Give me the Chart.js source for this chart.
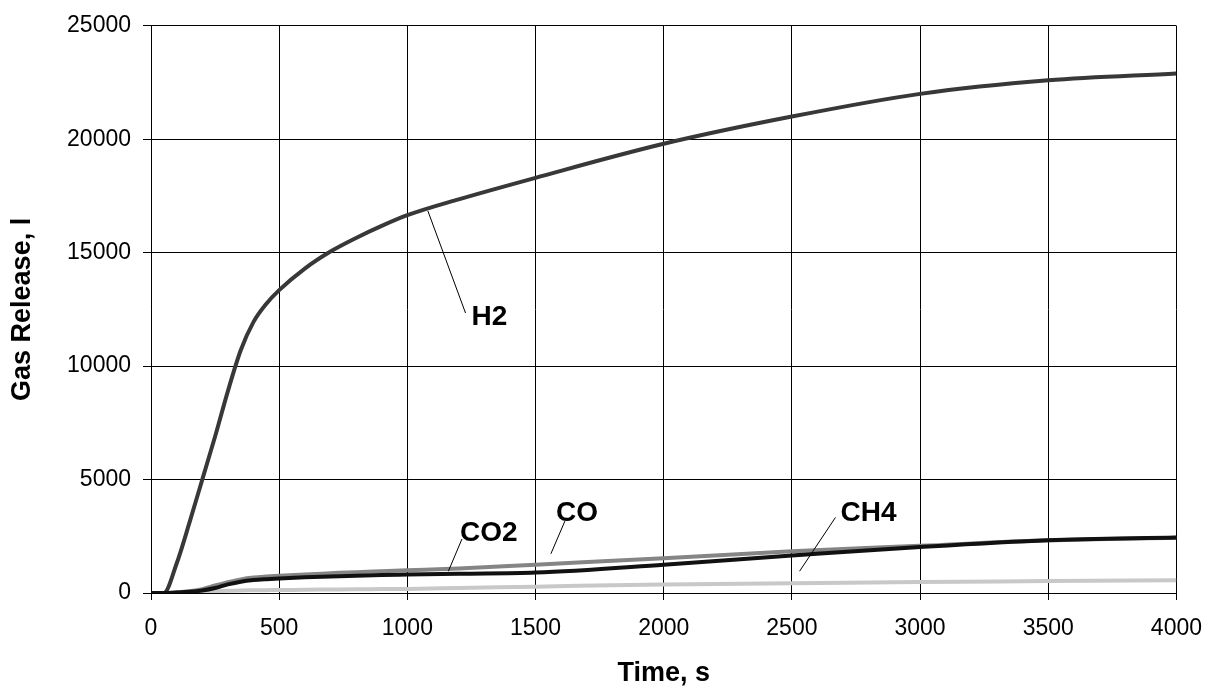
<!DOCTYPE html>
<html>
<head>
<meta charset="utf-8">
<script src="https://cdn.jsdelivr.net/npm/chart.js@4/dist/chart.umd.min.js"></script>
<style>
  body { margin: 0; background: #fff; }
  canvas { display: block; }
</style>
</head>
<body>
<canvas id="gasChart" width="1217" height="692"></canvas>
<script>
// time, s
const time = [0, 50, 100, 150, 200, 250, 300, 350, 400, 450, 500, 600, 700, 800, 900, 1000, 1200, 1500, 2000, 2500, 3000, 3500, 4000];

// released gas, l
const h2  = [0, 0, 1300, 3100, 5000, 6900, 8900, 10700, 11950, 12750, 13350, 14300, 15050, 15650, 16180, 16650, 17350, 18300, 19800, 21000, 22000, 22600, 22900];
const co2 = [0, 0, 20, 50, 110, 220, 380, 500, 570, 610, 640, 690, 730, 760, 790, 810, 850, 900, 1250, 1650, 2030, 2330, 2450];
const co  = [0, 0, 30, 80, 170, 330, 480, 600, 680, 725, 760, 820, 870, 920, 960, 1000, 1080, 1250, 1530, 1840, 2080, 2320, 2440];
const ch4 = [0, 0, 0, 10, 30, 70, 100, 115, 120, 125, 130, 145, 155, 165, 172, 180, 220, 280, 380, 430, 490, 525, 565];

// curve labels: text, where the text sits, and the pointer line (from -> to)
const labelText  = ["H2", "CO2", "CO", "CH4"];
const labelTime  = [1250, 1205, 1580, 2690];
const labelValue = [11800, 2280, 3180, 3180];
const leaderFrom = [[1080, 16840], [1160, 960], [1560, 1730], [2530, 960]];
const leaderTo   = [[1227, 12340], [1213, 2380], [1615, 3180], [2670, 3330]];

const xTicks = [0, 500, 1000, 1500, 2000, 2500, 3000, 3500, 4000];
const yTicks = [0, 5000, 10000, 15000, 20000, 25000];

const FONT = "'Liberation Sans', Arial, sans-serif";

function series(values) {
    return time.map((t, i) => ({x: t, y: values[i]}));
}

const curveLabels = {
    id: "curveLabels",
    afterDatasetsDraw(chart) {
        const {ctx, scales: {x, y}} = chart;
        ctx.save();
        ctx.strokeStyle = "#000";
        ctx.lineWidth = 1;
        leaderFrom.forEach((p, i) => {
            ctx.beginPath();
            ctx.moveTo(x.getPixelForValue(p[0]), y.getPixelForValue(p[1]));
            ctx.lineTo(x.getPixelForValue(leaderTo[i][0]), y.getPixelForValue(leaderTo[i][1]));
            ctx.stroke();
        });
        ctx.fillStyle = "#000";
        ctx.font = "bold 28px " + FONT;
        ctx.textAlign = "left";
        ctx.textBaseline = "alphabetic";
        labelText.forEach((txt, i) => {
            ctx.fillText(txt, x.getPixelForValue(labelTime[i]), y.getPixelForValue(labelValue[i]));
        });
        ctx.restore();
    }
};

const line = (label, values, color, order) => ({
    label: label,
    data: series(values),
    borderColor: color,
    borderWidth: 4,
    pointRadius: 0,
    fill: false,
    cubicInterpolationMode: "monotone",
    order: order
});

new Chart(document.getElementById("gasChart"), {
    type: "line",
    data: {
        datasets: [
            line("CO2", co2, "#111111", 0),
            line("H2", h2, "#383838", 1),
            line("CO", co, "#858585", 2),
            line("CH4", ch4, "#c8c8c8", 3)
        ]
    },
    options: {
        responsive: false,
        animation: false,
        layout: {padding: {top: 19, right: 37, left: 0, bottom: 0}},
        plugins: {legend: {display: false}, tooltip: {enabled: false}},
        scales: {
            x: {
                type: "linear",
                min: 0,
                max: 4000,
                afterBuildTicks: (scale) => { scale.ticks = xTicks.map(v => ({value: v})); },
                afterFit: (scale) => { scale.height = 99; },
                grid: {color: "#000", lineWidth: 1, tickLength: 7},
                border: {color: "#000", width: 1},
                ticks: {
                    color: "#000",
                    font: {family: FONT, size: 23},
                    padding: 15,
                    maxRotation: 0,
                    callback: (v) => String(v)
                },
                title: {
                    display: true,
                    text: "Time, s",
                    color: "#000",
                    font: {family: FONT, size: 27, weight: "bold"},
                    padding: {top: 0, bottom: 2}
                }
            },
            y: {
                min: 0,
                max: 25000,
                afterBuildTicks: (scale) => { scale.ticks = yTicks.map(v => ({value: v})); },
                afterFit: (scale) => { scale.width = 151; },
                grid: {color: "#000", lineWidth: 1, tickLength: 8},
                border: {color: "#000", width: 1},
                ticks: {
                    color: "#000",
                    font: {family: FONT, size: 23},
                    padding: 12,
                    callback: (v) => String(v)
                },
                title: {
                    display: true,
                    text: "Gas Release, l",
                    color: "#000",
                    font: {family: FONT, size: 27, weight: "bold"},
                    padding: {top: 6, bottom: 0}
                }
            }
        }
    },
    plugins: [curveLabels]
});
</script>
</body>
</html>
